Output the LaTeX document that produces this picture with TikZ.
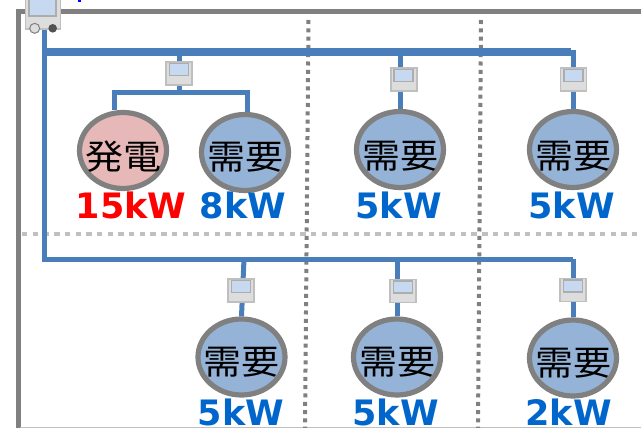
\documentclass[tikz,border=0pt]{standalone}
\usepackage{graphicx}
\usepackage{fontspec}
\setmainfont{DejaVu Sans}
\newfontfamily\cjkfont{Noto Sans CJK JP}
\usetikzlibrary{shapes.geometric,backgrounds}
\definecolor{busblue}{HTML}{4A7EBB}
\definecolor{framegray}{HTML}{808080}
\definecolor{lightdot}{HTML}{C0C0C0}
\definecolor{genfill}{HTML}{E6B9B8}
\definecolor{loadfill}{HTML}{95B3D7}
\definecolor{meterfill}{HTML}{DDDDDD}
\definecolor{meterline}{HTML}{BFBFBF}
\definecolor{screenfill}{HTML}{C6D9F1}
\definecolor{screenline}{HTML}{ADADAD}
\definecolor{kwblue}{HTML}{0066CC}
\newcommand{\lowkanji}[1]{\scalebox{1}[0.9]{#1}}
\tikzset{
  x=1pt,y=-1pt,
  bus/.style={draw=busblue,line width=5pt},
  thickbus/.style={draw=busblue,line width=7.7pt},
  frameline/.style={draw=framegray,line width=5pt},
  zonev/.style={draw=framegray,line width=4pt,dash pattern=on 4pt off 4.3pt},
  zoneh/.style={draw=lightdot,line width=4.6pt,dash pattern=on 5.4pt off 5.3pt},
  meterbox/.style={rectangle,draw=meterline,fill=meterfill,line width=1.8pt,minimum width=26pt,minimum height=23pt,inner sep=0pt},
  meterscreen/.style={rectangle,draw=screenline,fill=screenfill,line width=1.5pt,minimum width=19pt,minimum height=12pt,inner sep=0pt},
  bigbox/.style={rectangle,draw=meterline,fill=meterfill,line width=1.8pt,minimum width=35pt,minimum height=38pt,inner sep=0pt},
  bigscreen/.style={rectangle,draw=screenline,fill=screenfill,line width=1.8pt,minimum width=27pt,minimum height=20pt,inner sep=0pt},
  gen/.style={ellipse,draw=framegray,fill=genfill,line width=5.2pt,minimum width=87pt,minimum height=76pt,inner sep=0pt},
  load/.style={ellipse,draw=framegray,fill=loadfill,line width=5.2pt,minimum width=87pt,minimum height=76pt,inner sep=0pt},
  kanji/.style={inner sep=0pt,font=\cjkfont\fontsize{38}{38}\selectfont,text=black},
  kwtext/.style={inner sep=0pt,anchor=base,font=\bfseries\fontsize{35}{35}\selectfont},
}
\begin{document}
\begin{tikzpicture}
\useasboundingbox (0,0) rectangle (641,428);
\clip (0,0) rectangle (641,428);

% free ends of the buses and branches
\coordinate (trunkA) at (44,52);
\coordinate (trunkB) at (44,259);
\coordinate (endA) at (571,52);
\coordinate (endB) at (573,259);
\coordinate (brL) at (114,93);
\coordinate (brR) at (247,93);

% nodes
\node[gen]  (g1) at (123,150.5) {};
\node[load] (l1) at (245,152.5) {};
\node[load] (l2) at (400,149.5) {};
\node[load] (l3) at (573,149.5) {};
\node[load] (l4) at (241.5,357) {};
\node[load] (l5) at (397,357) {};
\node[load] (l6) at (573,358) {};

\node[meterbox] (m1) at (179,73.5) {};
\node[meterbox] (m2) at (403.7,79.3) {};
\node[meterbox] (m3) at (573.5,79.3) {};
\node[meterbox] (m4) at (241,290.5) {};
\node[meterbox] (m5) at (403,291) {};
\node[meterbox] (m6) at (573,290) {};
\foreach \m in {1,...,6}{
  \node[meterscreen] (s\m) at ([yshift=4pt]m\m.center) {};
}

\node[bigbox] (main) at (43,10) {};
\node[bigscreen] (mainscreen) at (42.5,6) {};
\node[circle,draw=framegray,fill=meterfill,line width=1pt,minimum size=10pt,inner sep=0pt] (lampa) at (34.7,28.3) {};
\node[circle,fill=black!68,minimum size=8.6pt,inner sep=0pt] (lampb) at (52.7,28.3) {};
\node[fill=blue,inner sep=0pt,minimum width=3pt,minimum height=3pt] (mark) at (79,0.5) {};

\node[kanji] (t1) at (123,157) {\lowkanji{発電}};
\node[kanji] (t2) at (245,157) {\lowkanji{需要}};
\node[kanji] (t3) at (400,156) {\lowkanji{需要}};
\node[kanji] (t4) at (573,156) {\lowkanji{需要}};
\node[kanji] (t5) at (241.5,362.5) {\lowkanji{需要}};
\node[kanji] (t6) at (397,362.5) {\lowkanji{需要}};
\node[kanji] (t7) at (573,363.5) {\lowkanji{需要}};

\node[kwtext,text=red]    (k1) at (131,218.5) {15kW};
\node[kwtext,text=kwblue] (k2) at (243,218.5) {8kW};
\node[kwtext,text=kwblue] (k3) at (398.5,218.5) {5kW};
\node[kwtext,text=kwblue] (k4) at (571.5,218.5) {5kW};
\node[kwtext,text=kwblue] (k5) at (241,425) {5kW};
\node[kwtext,text=kwblue] (k6) at (395.5,425) {5kW};
\node[kwtext,text=kwblue] (k7) at (568.5,425) {2kW};

\begin{scope}[on background layer]
  \draw[frameline] (18.3,428) -- (18.3,12) -- (641,12);
  \draw[lightdot,line width=1pt] (20,427.4) -- (641,427.4);
  \draw[zonev] (308.5,20) -- (305,428);
  \draw[zonev] (481,20) -- (478,428);
  \draw[zoneh] (22,234) -- (641,234);
  % buses
  \draw[bus] (main.south -| trunkA) -- (trunkB) -- (endB);
  \draw[thickbus] (trunkA) -- (endA);
  % first group
  \draw[bus] (trunkA -| m1) -- (m1.south);
  \draw[bus] (m1.south) -- (m1.south |- brL);
  \draw[bus] (g1.north -| brL) -- (brL) -- (brR) -- (l1.north -| brR);
  % single loads
  \draw[bus] (trunkA -| l2) -- (l2.north);
  \draw[bus] (573,50) -- (l3.north);
  \draw[bus] (244,259) -- (l4.north);
  \draw[bus] (trunkB -| l5) -- (l5.north);
  \draw[bus] (endB) -- (l6.north);
\end{scope}
\end{tikzpicture}
\end{document}
